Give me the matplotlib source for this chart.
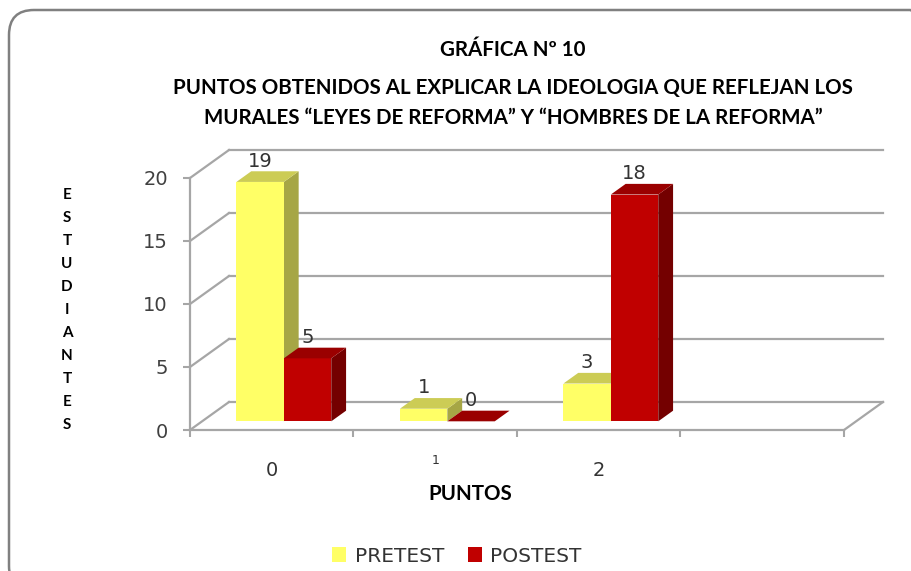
import matplotlib.pyplot as plt
from matplotlib.patches import Polygon, FancyBboxPatch, Patch
from matplotlib.transforms import IdentityTransform

# data
categorias = ['0', '1', '2', '']
pretest = [19, 1, 3]
postest = [5, 0, 18]
series = [pretest, postest]
nombres = ['PRETEST', 'POSTEST']
y_ticks = [0, 5, 10, 15, 20]

frente = ['#FFFF66', '#C00000']
arriba = ['#CCCC55', '#9A0000']
lado = ['#A6A645', '#740000']

# geometry of the fake 3D box (pixels -> data units)
W, H = 912, 571
X0, Y0 = 190, 430          # front-left corner of floor
CW, VU = 163.5, 12.6       # px per category, px per unit
DX, DY = 39 / CW, 28 / VU  # full depth offset in data units
F0, F1 = 0.31, 0.69        # bar depth range
BW = 0.29                  # bar width (category units)
GAP = 0.21

fig = plt.figure(figsize=(W / 100, H / 100), dpi=100)
ax = fig.add_axes([0, 0, 1, 1])
ax.set_xlim(-X0 / CW, (W - X0) / CW)
ax.set_ylim((Y0 - H) / VU, Y0 / VU)
ax.patch.set_alpha(0)

grid_c = '#A6A6A6'
n_cat = len(categorias)
# back wall gridlines and side wall lines
for v in y_ticks:
    ax.plot([DX, n_cat + DX], [v + DY, v + DY], color=grid_c, lw=1.6, zorder=1)
    ax.plot([0, DX], [v, v + DY], color=grid_c, lw=1.6, zorder=1)
ax.plot([n_cat, n_cat + DX], [0, DY], color=grid_c, lw=1.6, zorder=1)

# bars
for i in range(len(pretest)):
    for s, vals in enumerate(series):
        v = vals[i]
        xl = i + GAP + BW * s
        xr = xl + BW
        ax.add_patch(Polygon([(xr + F0 * DX, F0 * DY), (xr + F1 * DX, F1 * DY),
                              (xr + F1 * DX, v + F1 * DY), (xr + F0 * DX, v + F0 * DY)],
                             closed=True, fc=lado[s], ec='none', zorder=3))
        ax.bar(xl + F0 * DX, v, width=BW, bottom=F0 * DY, align='edge',
               color=frente[s], edgecolor='none', zorder=3)
        ax.add_patch(Polygon([(xl + F0 * DX, v + F0 * DY), (xr + F0 * DX, v + F0 * DY),
                              (xr + F1 * DX, v + F1 * DY), (xl + F1 * DX, v + F1 * DY)],
                             closed=True, fc=arriba[s], ec='none', zorder=3))
        ax.annotate(str(v), ((xl + xr) / 2 + F0 * DX, v + F0 * DY),
                    xytext=(0, 15), textcoords='offset points',
                    ha='center', va='center', fontsize=14, color='#333333', zorder=4)

# axes spines
for sp in ['top', 'right']:
    ax.spines[sp].set_visible(False)
ax.spines['left'].set_position(('data', 0))
ax.spines['bottom'].set_position(('data', 0))
ax.spines['left'].set_bounds(0, 20)
ax.spines['bottom'].set_bounds(0, n_cat)
for sp in ['left', 'bottom']:
    ax.spines[sp].set_color(grid_c)
    ax.spines[sp].set_linewidth(1.6)

ax.set_yticks(y_ticks)
ax.set_yticklabels([str(t) for t in y_ticks])
ax.tick_params(axis='y', direction='out', length=5, width=1.5, color=grid_c,
               labelsize=14, labelcolor='#404040', pad=11)
ax.set_xticks(range(n_cat + 1))
ax.set_xticklabels([])
ax.tick_params(axis='x', which='major', direction='out', length=5, width=1.5, color=grid_c)
ax.set_xticks([i + 0.5 for i in range(n_cat)], minor=True)
ax.set_xticklabels(categorias, minor=True)
ax.tick_params(axis='x', which='minor', length=0, labelsize=14, labelcolor='#333333', pad=22)
lab1 = ax.get_xticklabels(minor=True)[1]
lab1.set_fontsize(9)
lab1.set_verticalalignment('center')

# titles
tit = dict(ha='center', va='center', fontsize=14.8, fontweight='bold', family='Lato', color='black')
fig.text(513 / W, 1 - 50 / H, 'GRÁFICA Nº 10', **tit)
fig.text(513 / W, 1 - 88 / H, 'PUNTOS OBTENIDOS AL EXPLICAR LA IDEOLOGIA QUE REFLEJAN LOS', **tit)
fig.text(513 / W, 1 - 118 / H, 'MURALES “LEYES DE REFORMA” Y “HOMBRES DE LA REFORMA”', **tit)
fig.text(470 / W, 1 - 494 / H, 'PUNTOS', **tit)

for k, letra in enumerate('ESTUDIANTES'):
    fig.text(67 / W, 1 - (195 + 23 * k) / H, letra, ha='center', va='center',
             fontsize=11, fontweight='bold', family='Lato')

# legend
handles = [Patch(facecolor=frente[s], edgecolor='none', label=nombres[s]) for s in range(2)]
fig.legend(handles=handles, loc='center', bbox_to_anchor=(457 / W, 1 - 556 / H), ncol=2,
           frameon=False, fontsize=14.5, handlelength=0.7, handleheight=0.7,
           handletextpad=0.4, columnspacing=1.2, labelcolor='#333333')

# chart border (pixel coordinates, partly cut off on the right and bottom)
fig.patches.append(FancyBboxPatch((9, -20), 926, H - 10 + 20,
                                  boxstyle='round,pad=0,rounding_size=25',
                                  transform=IdentityTransform(), fc='none', ec='#808080', lw=1.8))

plt.savefig('out.png', dpi=100)
